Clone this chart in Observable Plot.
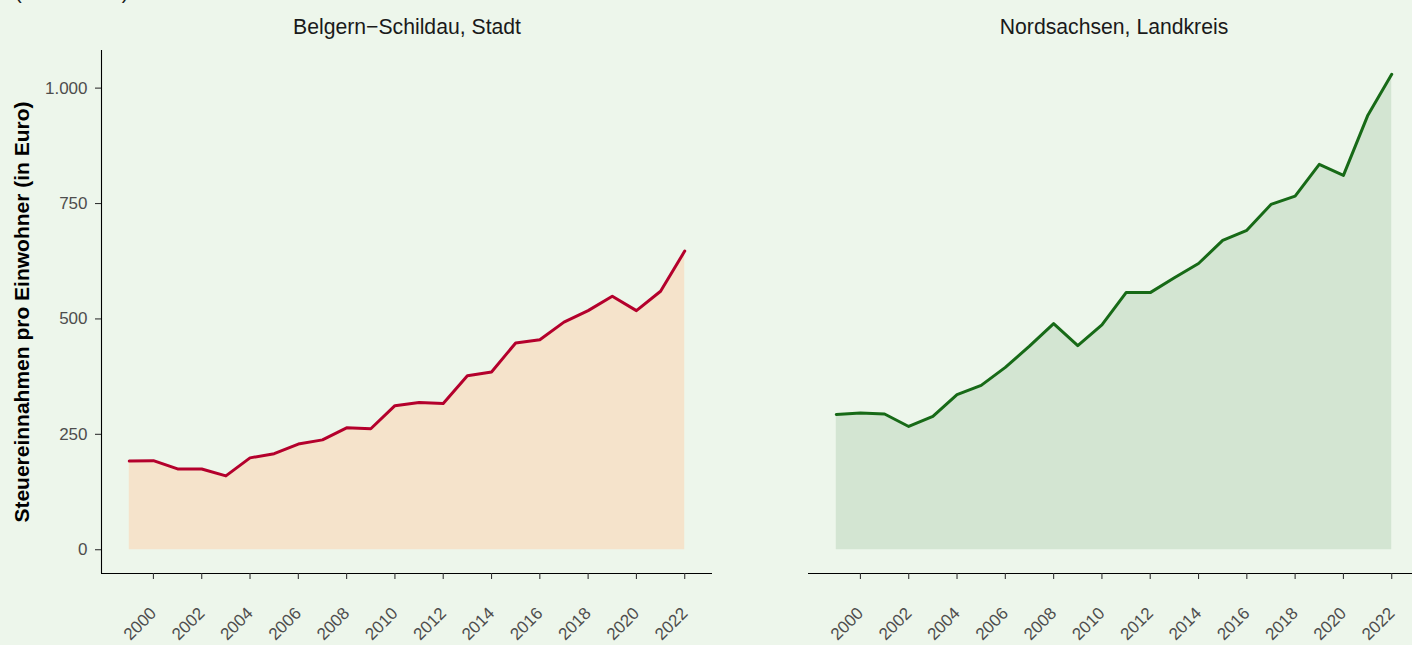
<!DOCTYPE html>
<html><head><meta charset="utf-8">
<script src="https://cdn.jsdelivr.net/npm/d3@7"></script>
<script src="https://cdn.jsdelivr.net/npm/@observablehq/plot@0.6"></script>
<style>
html,body{margin:0;padding:0;background:#EDF6EB;overflow:hidden;width:1412px;height:645px;}
#wrap{position:relative;width:1412px;height:645px;overflow:hidden;}
#sub{position:absolute;left:15px;top:-17.6px;font-family:"Liberation Sans",Arial,sans-serif;font-size:20px;line-height:20px;color:#1a1a1a;white-space:nowrap;}
svg{display:block;max-width:none !important;}
</style></head><body><div id="wrap"><div id="sub">(1999–2022)</div></div>
<script>
const regions = ["Belgern−Schildau, Stadt", "Nordsachsen, Landkreis"];
const years = [1999,2000,2001,2002,2003,2004,2005,2006,2007,2008,2009,2010,2011,2012,2013,2014,2015,2016,2017,2018,2019,2020,2021,2022];
const belgernSchildau = [192,193,175,175,160,199,208,229,238,264,262,312,319,317,377,385,448,455,493,518,549,518,560,647];
const nordsachsen = [293,296,294,267,289,336,356,395,441,490,442,487,557,557,589,620,670,692,748,766,835,811,940,1030];
const yTicks = [0,250,500,750,1000];
const xTicks = [2000,2002,2004,2006,2008,2010,2012,2014,2016,2018,2020,2022];
const yTitle = "Steuereinnahmen pro Einwohner (in Euro)";
const fillColors = ["#F5E3CB", "#D3E5D2"];
const lineColors = ["#B4002C", "#176A17"];

const series = [belgernSchildau, nordsachsen];
const rows = regions.map((r, k) => years.map((yr, i) => ({region: r, year: yr, value: series[k][i]})));

const xSpan = years[years.length-1] - years[0];
const xDomain = [years[0] - 0.05*xSpan, years[years.length-1] + 0.05*xSpan];
const yMax = Math.max(...belgernSchildau, ...nordsachsen);
const yDomain = [-0.05*yMax, yMax*1.05];
const de = d3.formatLocale({decimal: ",", thousands: ".", grouping: [3], currency: ["", " €"]});
const fmt = de.format(",");
const font = '"Liberation Sans", Arial, Helvetica, sans-serif';

const chart = Plot.plot({
  width: 1420, height: 645,
  marginLeft: 101, marginRight: 1, marginTop: 50, marginBottom: 72,
  style: {background: "transparent", fontFamily: font, fontSize: "17px", overflow: "visible", maxWidth: "none"},
  fx: {domain: regions, paddingInner: 0.1358, paddingOuter: 0, axis: null, label: null},
  x: {domain: xDomain, axis: null},
  y: {domain: yDomain, axis: null},
  marks: [
    ...rows.flatMap((data, k) => [
      Plot.areaY(data, {x: "year", y: "value", fx: "region", fill: fillColors[k]}),
      Plot.lineY(data, {x: "year", y: "value", fx: "region", stroke: lineColors[k], strokeWidth: 3, strokeLinejoin: "round"})
    ]),
    Plot.ruleY([yDomain[0]], {stroke: "#000", strokeWidth: 1.1}),
    Plot.ruleX([xDomain[0]], {fx: () => regions[0], stroke: "#000", strokeWidth: 1.1}),
    Plot.axisY(yTicks, {anchor: "left", tickSize: 6, tickPadding: 8, tickFormat: fmt, fontSize: 17, fill: "#4D4D4D", stroke: "#333", strokeWidth: 1.1, label: null}),
    Plot.axisX(xTicks, {anchor: "bottom", tickSize: 6, fill: "none", stroke: "#333", strokeWidth: 1.1, label: null, tickFormat: () => ""}),
    Plot.text(xTicks, {x: d => d, frameAnchor: "bottom", dy: 37, rotate: -45, textAnchor: "end", lineAnchor: "middle", fontSize: 17, fill: "#4D4D4D", text: d => String(d)}),
    Plot.text(regions, {fx: d => d, text: d => d, frameAnchor: "top", dy: -17, lineAnchor: "bottom", fontSize: 21.2, fill: "#1A1A1A"}),
    Plot.text([regions[0]], {fx: d => d, text: () => yTitle, frameAnchor: "left", dx: -73, rotate: -90, textAnchor: "middle", lineAnchor: "bottom", fontSize: 21, fontWeight: "bold", fill: "#000"})
  ]
});
document.getElementById("wrap").appendChild(chart);
</script>
</body></html>
